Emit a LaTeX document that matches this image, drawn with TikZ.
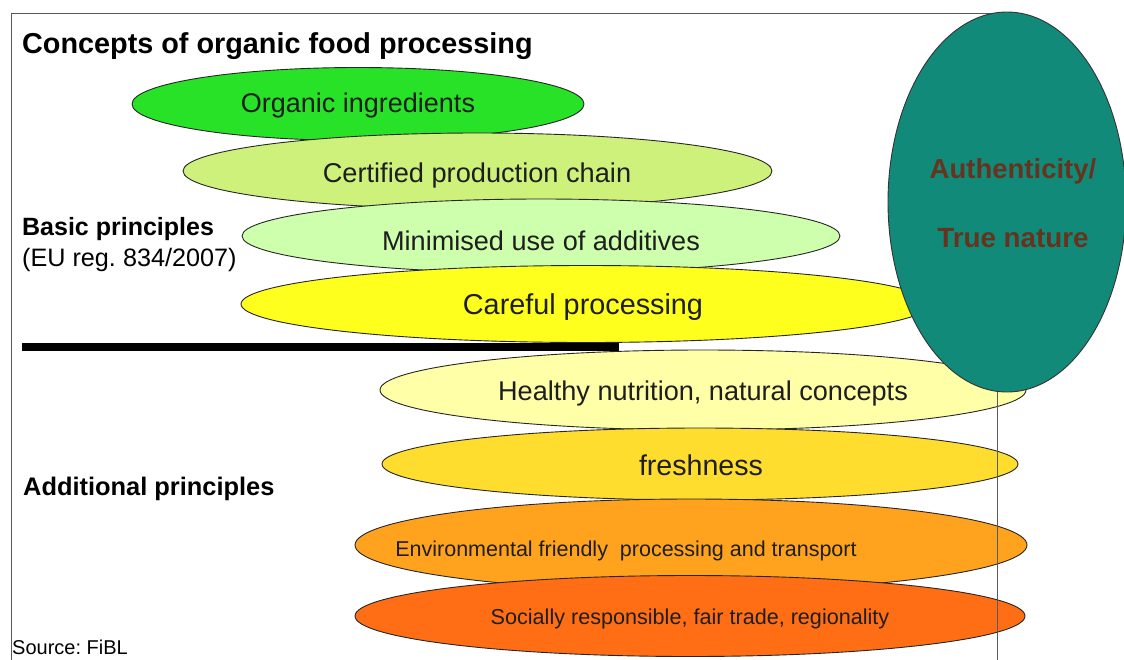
\documentclass[tikz,border=0pt]{standalone}
\usepackage{fontspec}
\setmainfont{Liberation Sans}
\usetikzlibrary{shapes.geometric}
\definecolor{cOrg}{RGB}{40,226,40}
\definecolor{cCert}{RGB}{206,241,124}
\definecolor{cMin}{RGB}{206,255,172}
\definecolor{cCare}{RGB}{255,255,30}
\definecolor{cHeal}{RGB}{255,255,168}
\definecolor{cFresh}{RGB}{255,221,46}
\definecolor{cEnv}{RGB}{255,163,30}
\definecolor{cSoc}{RGB}{255,110,20}
\definecolor{cTeal}{RGB}{18,138,122}
\definecolor{cBrown}{RGB}{102,52,30}
\definecolor{cTxt}{RGB}{30,30,30}
\tikzset{
  oval/.style={ellipse, draw=black!85, line width=0.9pt, inner sep=0pt},
  lbl/.style={inner sep=0pt, text=cTxt},
  side/.style={inner sep=0pt, anchor=west, text=black},
}
\newcommand{\fs}[1]{\fontsize{#1}{#1}\selectfont\frenchspacing}
\begin{document}
\begin{tikzpicture}[x=1pt,y=-1pt]
\useasboundingbox (0,0) rectangle (1124,659);
% ellipses
\node[oval, fill=cOrg, minimum width=452pt, minimum height=73pt] (e1) at (358,104) {};
\node[oval, fill=cCert, minimum width=589pt, minimum height=76pt] (e2) at (477.5,171) {};
\node[oval, fill=cMin, minimum width=598pt, minimum height=74pt] (e3) at (541,236) {};
\node[oval, fill=cCare, minimum width=690pt, minimum height=77pt] (e4) at (586,304) {};
\node[oval, fill=cHeal, minimum width=646pt, minimum height=80pt] (e5) at (703,390) {};
\node[oval, fill=cFresh, minimum width=636pt, minimum height=72pt] (e6) at (700,464) {};
\node[oval, fill=cEnv, minimum width=672pt, minimum height=92pt] (e7) at (691,545) {};
\node[oval, fill=cSoc, minimum width=670pt, minimum height=81pt] (e8) at (690,616) {};
% ellipse texts
\node[lbl] (t1) at (358,106) {\fs{27}Organic ingredients};
\node[lbl] (t2) at (477,175) {\fs{27.2}Certified production chain};
\node[lbl] (t3) at (541,241) {\fs{27.1}Minimised use of additives};
\node[lbl] (t4) at (583,307) {\fs{28.8}Careful processing};
\node[lbl] (t5) at (703,393) {\fs{27.1}Healthy nutrition, natural concepts};
\node[lbl] (t6) at (701,465) {\fs{28.6}freshness};
\node[lbl] (t7) at (626,551) {\fs{21.5}Environmental friendly\ \ processing and transport};
\node[lbl] (t8) at (690,619) {\fs{21.6}Socially responsible, fair trade, regionality};
% thick separator
\coordinate (s1) at (22,347);
\coordinate (s2) at (619,347);
\draw[line width=7.5pt, black] (s1) -- (s2);
% frame
\coordinate (f1) at (11,670);
\coordinate (f2) at (11,13);
\coordinate (f3) at (997,13);
\coordinate (f4) at (997,670);
\draw[gray!70!black, line width=0.9pt] (f1) -- (f2) -- (f3) -- (f4);
% big ellipse
\node[ellipse, draw=black!80, line width=0.9pt, fill=cTeal, minimum width=238pt, minimum height=380pt, inner sep=0pt] (big) at (1007,202) {};
\node[inner sep=0pt, text=cBrown] (a1) at (1013,171) {\fs{27.5}\bfseries Authenticity/};
\node[inner sep=0pt, text=cBrown] (a2) at (1013,238) {\fs{27.8}\bfseries True nature};
% side texts
\node[side] (title) at (22,46) {\fs{28.8}\bfseries Concepts of organic food processing};
\node[side] (bp) at (22,229) {\fs{25}\bfseries Basic principles};
\node[side] (eu) at (22,260) {\fs{25.2}(EU reg. 834/2007)};
\node[side] (ap) at (23,489) {\fs{25.4}\bfseries Additional principles};
\node[side] (src) at (12,647) {\fs{20}Source: FiBL};
\end{tikzpicture}
\end{document}
